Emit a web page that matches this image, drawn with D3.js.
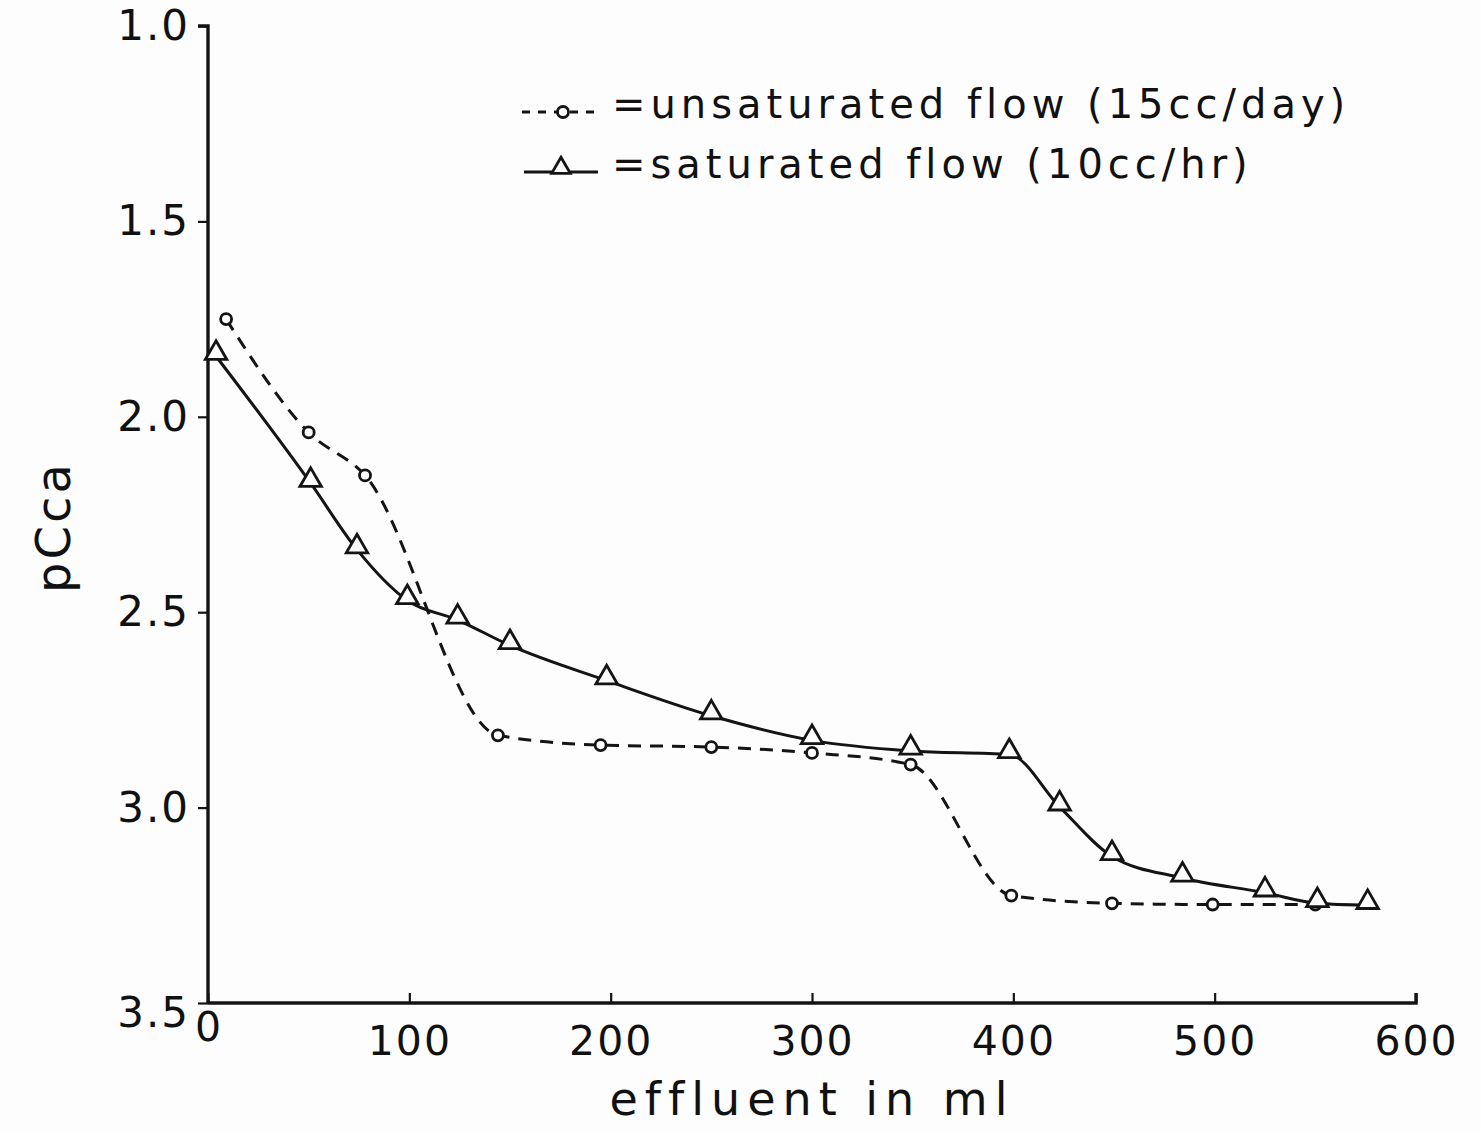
<!DOCTYPE html>
<html>
<head>
<meta charset="utf-8">
<script src="https://cdn.jsdelivr.net/npm/d3@7"></script>
<style>
  html, body { margin: 0; padding: 0; background: #fdfdfd; }
  svg { display: block; }
  text { font-family: "DejaVu Sans", sans-serif; fill: #111; }
</style>
</head>
<body>
<svg id="chart" width="1481" height="1130"></svg>
<script>
// ---- data ----
const unsatX = [9, 50, 78, 144, 195, 250, 300, 349, 399, 449, 499, 550];
const unsatY = [1.75, 2.04, 2.15, 2.815, 2.84, 2.845, 2.86, 2.89, 3.225, 3.245, 3.248, 3.248];
const satX = [4, 51, 74, 99, 124, 150, 198, 250, 300, 349, 398, 423, 449, 484, 525, 551, 576];
const satY = [1.845, 2.17, 2.34, 2.47, 2.52, 2.585, 2.675, 2.765, 2.828, 2.855, 2.864, 2.998, 3.125, 3.18, 3.218, 3.245, 3.25];
const xTicks = [0, 100, 200, 300, 400, 500, 600];
const yTicks = [1.0, 1.5, 2.0, 2.5, 3.0, 3.5];
const legendLabels = ["unsaturated flow (15cc/day)", "saturated flow (10cc/hr)"];
const xTitle = "effluent in ml";
const yTitle = "pCca";

const svg = d3.select("#chart");
const x = d3.scaleLinear().domain([0, 600]).range([208, 1416]);
const y = d3.scaleLinear().domain([1.0, 3.5]).range([26, 1003]);
const ink = "#141414";
const paper = "#fdfdfd";

// axes
const xAxis = d3.axisBottom(x).tickValues(xTicks).tickSize(-10).tickPadding(22)
  .tickFormat(d => d === 0 ? "" : d3.format("d")(d));
const gx = svg.append("g").attr("transform", `translate(0,${y(3.5)})`).call(xAxis);
gx.select(".domain").attr("stroke", ink).attr("stroke-width", 3.4).attr("d", `M${x(0)},0H${x(600)}V-10`);
gx.selectAll(".tick line").attr("stroke", ink).attr("stroke-width", 2.2);
gx.selectAll(".tick text").attr("font-size", 41).attr("font-family", "DejaVu Sans").attr("fill", ink)
  .attr("letter-spacing", 2).attr("dy", "0.72em");

// "0" label under corner
svg.append("text").attr("x", x(0)).attr("y", y(3.5) + 38).attr("text-anchor", "middle")
  .attr("font-size", 41).text("0");

const yAxis = d3.axisLeft(y).tickValues(yTicks).tickSize(10).tickPadding(8)
  .tickFormat(d3.format(".1f"));
const gy = svg.append("g").attr("transform", `translate(${x(0)},0)`).call(yAxis);
gy.select(".domain").attr("stroke", ink).attr("stroke-width", 3.4).attr("d", `M-10,${y(1)}H0V${y(3.5)}`);
gy.selectAll(".tick line").attr("stroke", ink).attr("stroke-width", 2.2);
gy.selectAll(".tick text").attr("font-size", 42).attr("font-family", "DejaVu Sans").attr("fill", ink)
  .attr("letter-spacing", 2);
gy.selectAll(".tick").filter(d => d === 3.5).select("text").attr("dy", "0.55em");

// titles
svg.append("text").attr("x", 812).attr("y", 1115).attr("text-anchor", "middle")
  .attr("font-size", 46).attr("letter-spacing", 7).text(xTitle);
svg.append("text").attr("transform", "translate(70,527) rotate(-90)").attr("text-anchor", "middle")
  .attr("font-size", 48).attr("letter-spacing", 3).text(yTitle);

// lines
const line = d3.line().x(d => x(d[0])).y(d => y(d[1])).curve(d3.curveMonotoneX);
const unsat = unsatX.map((v, i) => [v, unsatY[i]]);
const sat = satX.map((v, i) => [v, satY[i]]);

svg.append("path").datum(unsat).attr("d", line).attr("fill", "none")
  .attr("stroke", ink).attr("stroke-width", 3).attr("stroke-dasharray", "13,9");
svg.append("path").datum(sat).attr("d", line).attr("fill", "none")
  .attr("stroke", ink).attr("stroke-width", 3);

// markers
svg.append("g").selectAll("circle").data(unsat).join("circle")
  .attr("cx", d => x(d[0])).attr("cy", d => y(d[1])).attr("r", 5.5)
  .attr("fill", paper).attr("stroke", ink).attr("stroke-width", 2.8);

const tri = d3.symbol().type(d3.symbolTriangle).size(200);
svg.append("g").selectAll("path").data(sat).join("path")
  .attr("d", tri).attr("transform", d => `translate(${x(d[0])},${y(d[1]) - 3})`)
  .attr("fill", paper).attr("stroke", ink).attr("stroke-width", 2.8);

// legend
const lg = svg.append("g");
lg.append("line").attr("x1", 522).attr("x2", 602).attr("y1", 112).attr("y2", 112)
  .attr("stroke", ink).attr("stroke-width", 3).attr("stroke-dasharray", "8,8");
lg.append("circle").attr("cx", 563).attr("cy", 112).attr("r", 5.5)
  .attr("fill", paper).attr("stroke", ink).attr("stroke-width", 2.8);
lg.append("line").attr("x1", 524).attr("x2", 598).attr("y1", 172).attr("y2", 172)
  .attr("stroke", ink).attr("stroke-width", 3);
lg.append("path").attr("d", d3.symbol().type(d3.symbolTriangle).size(150))
  .attr("transform", "translate(561,168)")
  .attr("fill", paper).attr("stroke", ink).attr("stroke-width", 2.8);
lg.selectAll("text").data(legendLabels).join("text")
  .attr("x", 612).attr("y", (d, i) => 118 + i * 60)
  .attr("font-size", 40).attr("letter-spacing", 5)
  .text(d => "=" + d);
</script>
</body>
</html>
